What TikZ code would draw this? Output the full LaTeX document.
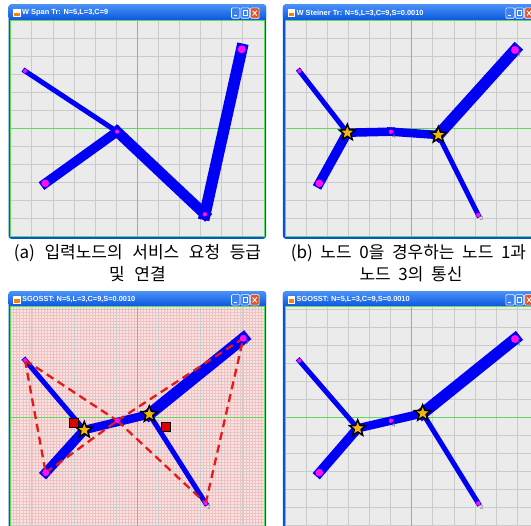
\documentclass[tikz,border=0pt]{standalone}
\usepackage{fontspec}
\newfontfamily\kr{Noto Sans CJK KR}
\newfontfamily\tf{Liberation Sans}
\newcommand\capfont{\kr\fontsize{17}{17}\selectfont}
\newcommand\wsp{\hspace{9.6pt}}
\newcommand\wsq{\hspace{7.6pt}}
\usetikzlibrary{shapes.geometric}
\definecolor{winblue}{HTML}{0A50D8}
\definecolor{titletop}{HTML}{4A92F8}
\definecolor{titlebot}{HTML}{0A58E0}
\definecolor{clientbg}{HTML}{EBEBEB}
\definecolor{gridgray}{HTML}{CBCBCB}
\definecolor{gridgreen}{HTML}{5ED85E}
\definecolor{edgeblue}{HTML}{0000F5}
\definecolor{nodemag}{HTML}{FF10F0}
\definecolor{pinkbg}{HTML}{F8E2E2}
\definecolor{pinkline}{HTML}{F0C2C2}
\definecolor{dashred}{HTML}{E81818}
\definecolor{staryel}{HTML}{F2B60C}
\definecolor{btnblue}{HTML}{3D80F2}
\definecolor{btnred}{HTML}{E2542A}
\definecolor{sqred}{HTML}{E00000}
\tikzset{
  bl/.style={draw=edgeblue, line width=#1, line cap=rect},
  dsh/.style={draw=dashred, line width=2.3pt, dash pattern=on 8pt off 5pt},
  starblk/.style={star, star points=5, star point ratio=2.3, minimum size=21pt, inner sep=0pt, fill=black},
  staryl/.style={star, star points=5, star point ratio=2.3, minimum size=12pt, inner sep=0pt, fill=staryel},
  sqbox/.style={draw=black, line width=0.8pt, fill=sqred, minimum size=9pt, inner sep=0pt},
  lbl/.style={font=\tf\fontsize{6}{6}\selectfont, text=black!55, inner sep=0pt, anchor=north west},
  captxt/.style={font=\capfont, anchor=base, inner sep=0pt},
  gl/.style={gridgray, line width=0.8pt},
  gg/.style={gridgreen, line width=0.8pt}
}
% #1 cx, #2 cy, #3 client top, #4 title top, #5 title centre, #6 title, #7 extra background code
\newcommand\mywin[7]{%
\begin{scope}[shift={(#1,#2)}]
\fill[winblue, rounded corners=3pt] (-128.8,#4) rectangle (128.8,110.6);
\shade[top color=titletop, bottom color=titlebot, rounded corners=3pt] (-128.8,#4) rectangle (128.8,#3);
\fill[clientbg] (-126.6,#3) rectangle (126.6,108.5);
#7
\foreach \k in {-5,...,5} \draw[gl] (\k*21.1,#3) -- (\k*21.1,108.5);
\foreach \k in {-6,...,6} \draw[gl] (-126.6,\k*18) -- (126.6,\k*18);
\draw[gg] (0,#3) -- (0,108.5) (-126.6,0) -- (126.6,0);
\draw[gg] (-126.6,#3) rectangle (126.6,108.5);
\fill[white] (-124,{#5-3.8}) rectangle (-116.6,{#5+3.8});
\fill[orange] (-123,{#5-0.5}) rectangle (-117.6,{#5+2.8});
\node[anchor=west, inner sep=0pt, text=white, font=\tf\bfseries\fontsize{7.4}{7.4}\selectfont] at (-115.3,#5) {#6};
\draw[white, line width=0.6pt, fill=btnblue, rounded corners=1pt] (94.2,{#5-5.2}) rectangle (102.6,{#5+5.2});
\draw[white, line width=0.6pt, fill=btnblue, rounded corners=1pt] (103.6,{#5-5.2}) rectangle (112.0,{#5+5.2});
\draw[white, line width=0.6pt, fill=btnred, rounded corners=1pt] (113.0,{#5-5.2}) rectangle (121.8,{#5+5.2});
\draw[white, line width=1pt] (96.4,{#5+2.4}) -- (99.6,{#5+2.4});
\draw[white, line width=0.7pt] (105.6,{#5-2.5}) rectangle (110.0,{#5+2.5});
\draw[white, line width=0.9pt] (115.3,{#5-2.4}) -- (119.5,{#5+2.4}) (115.3,{#5+2.4}) -- (119.5,{#5-2.4});
\end{scope}}
\begin{document}
\begin{tikzpicture}[x=1pt,y=-1pt]
\path[use as bounding box] (0,0) rectangle (531,526);
\clip (0,0) rectangle (531,526);
\fill[white] (0,0) rectangle (531,526);

% windows
\mywin{137.3}{128.3}{-108.3}{-124}{-115.2}{W Span Tr: N=5,L=3,C=9}{}
\mywin{411.7}{128.3}{-108.3}{-124}{-115.2}{W Steiner Tr: N=5,L=3,C=9,S=0.0010}{}
\mywin{137.3}{417.7}{-111.5}{-126.5}{-117.8}{SGOSST: N=5,L=3,C=9,S=0.0010}{%
  \fill[pinkbg] (-126.6,-111.5) rectangle (126.6,108.5);
  \foreach \i in {-42,...,42} \draw[pinkline, line width=0.5pt] (\i*3.0143,-111.5) -- (\i*3.0143,108.5);
  \foreach \j in {-37,...,36} \draw[pinkline, line width=0.5pt] (-126.6,\j*3) -- (126.6,\j*3);}
\mywin{411.7}{417.7}{-111.5}{-126.5}{-117.8}{SGOSST: N=5,L=3,C=9,S=0.0010}{}

% (a) spanning tree
\begin{scope}[shift={(137.3,128.3)}]
\coordinate (aA) at (-112.3,-57.3);
\coordinate (aB) at (-92,55);
\coordinate (aC) at (-20.2,3.3);
\coordinate (aD) at (67.6,86);
\coordinate (aE) at (104.4,-79);
\draw[bl=5pt] (aA) -- (aC);
\draw[bl=9.5pt] (aB) -- (aC);
\draw[bl=10.5pt] (aC) -- (aD);
\draw[bl=11.5pt] (aD) -- (aE);
\fill[nodemag] (aA) circle (2pt) (aB) circle (3.8pt) (aC) circle (2.2pt) (aD) circle (2.2pt) (aE) circle (4pt);
\end{scope}

% (b) Steiner tree
\begin{scope}[shift={(411.7,128.3)}]
\coordinate (bA) at (-112.3,-57.3);
\coordinate (bB) at (-92.4,55);
\coordinate (bC) at (-20.7,3.4);
\coordinate (bD) at (66.6,86.7);
\coordinate (bE) at (103.3,-78.3);
\coordinate (bS1) at (-64.4,4.4);
\coordinate (bS2) at (26.6,6.7);
\draw[bl=5pt] (bA) -- (bS1);
\draw[bl=9.5pt] (bB) -- (bS1);
\draw[bl=8.5pt] (bS1) -- (bC);
\draw[bl=8.5pt] (bC) -- (bS2);
\draw[bl=11.5pt] (bS2) -- (bE);
\draw[bl=5pt] (bS2) -- (bD);
\fill[nodemag] (bA) circle (2pt) (bB) circle (3.8pt) (bC) circle (2.2pt) (bD) circle (2.2pt) (bE) circle (4pt);
\node[lbl] (lb3) at ([xshift=2pt,yshift=-2pt]bE) {3};
\node[lbl] (lb4) at ([xshift=1pt,yshift=-2pt]bC) {4};
\node[lbl] (lb2) at ([xshift=1.5pt,yshift=-1.5pt]bD) {2};
\node[starblk] (bs1k) at (bS1) {};
\node[staryl] (bs1y) at (bS1) {};
\node[starblk] (bs2k) at (bS2) {};
\node[staryl] (bs2y) at (bS2) {};
\end{scope}

% (c) SGOSST with previous positions
\begin{scope}[shift={(137.3,417.7)}]
\coordinate (cA) at (-112.3,-57.7);
\coordinate (cB) at (-91.6,55);
\coordinate (cC) at (-20,3);
\coordinate (cD) at (68.4,85.6);
\coordinate (cE) at (106,-79.4);
\coordinate (cS1) at (-53,12.3);
\coordinate (cS2) at (12,-3.4);
\draw[bl=5pt] (cA) -- (cS1);
\draw[bl=9.5pt] (cB) -- (cS1);
\draw[bl=8.5pt] (cS1) -- (cS2);
\draw[bl=11.5pt] (cS2) -- (cE);
\draw[bl=5pt] (cS2) -- (cD);
\draw[dsh] (cA) -- (cB);
\draw[dsh] (cA) -- (cC);
\draw[dsh] (cC) -- (cD);
\draw[dsh] (cB) -- (cC);
\draw[dsh] (cC) -- (cE);
\draw[dsh] (cD) -- (cE);
\fill[nodemag] (cA) circle (2pt) (cB) circle (3.5pt) (cC) circle (2.5pt) (cD) circle (2pt) (cE) circle (3.5pt);
\node[lbl] (lc3) at ([xshift=1.5pt,yshift=-2pt]cE) {3};
\node[lbl] (lc2) at ([xshift=1.5pt,yshift=-1.5pt]cD) {2};
\node[starblk] (cs1k) at (cS1) {};
\node[staryl] (cs1y) at (cS1) {};
\node[starblk] (cs2k) at (cS2) {};
\node[staryl] (cs2y) at (cS2) {};
\node[sqbox] (cq1) at (-63,5.6) {};
\node[sqbox] (cq2) at (28.4,9) {};
\end{scope}

% (d) SGOSST result
\begin{scope}[shift={(411.7,417.7)}]
\coordinate (dA) at (-112.4,-57);
\coordinate (dB) at (-92.4,55);
\coordinate (dC) at (-20.7,3);
\coordinate (dD) at (66.6,85.6);
\coordinate (dE) at (103.3,-78.7);
\coordinate (dS1) at (-54,10.6);
\coordinate (dS2) at (11,-4.4);
\draw[bl=5pt] (dA) -- (dS1);
\draw[bl=9.5pt] (dB) -- (dS1);
\draw[bl=8.5pt] (dS1) -- (dS2);
\draw[bl=11.5pt] (dS2) -- (dE);
\draw[bl=5pt] (dS2) -- (dD);
\fill[nodemag] (dA) circle (2pt) (dB) circle (3.8pt) (dC) circle (2.2pt) (dD) circle (2.2pt) (dE) circle (4pt);
\node[lbl] (ld3) at ([xshift=2pt,yshift=-2pt]dE) {3};
\node[lbl] (ld4) at ([xshift=1pt,yshift=-2pt]dC) {4};
\node[lbl] (ld2) at ([xshift=1.5pt,yshift=-1.5pt]dD) {2};
\node[starblk] (ds1k) at (dS1) {};
\node[staryl] (ds1y) at (dS1) {};
\node[starblk] (ds2k) at (dS2) {};
\node[staryl] (ds2y) at (dS2) {};
\end{scope}

% captions
\node[captxt] (capa1) at (137.5,259) {(a)\wsp 입력노드의\wsp 서비스\wsp 요청\wsp 등급};
\node[captxt] (capa2) at (137.5,281) {및\wsp 연결};
\node[captxt] (capb1) at (408.5,259) {(b)\wsq 노드\wsq 0을\wsq 경우하는\wsq 노드\wsq 1과};
\node[captxt] (capb2) at (411,281) {노드\wsq 3의\wsq 통신};
\end{tikzpicture}
\end{document}
